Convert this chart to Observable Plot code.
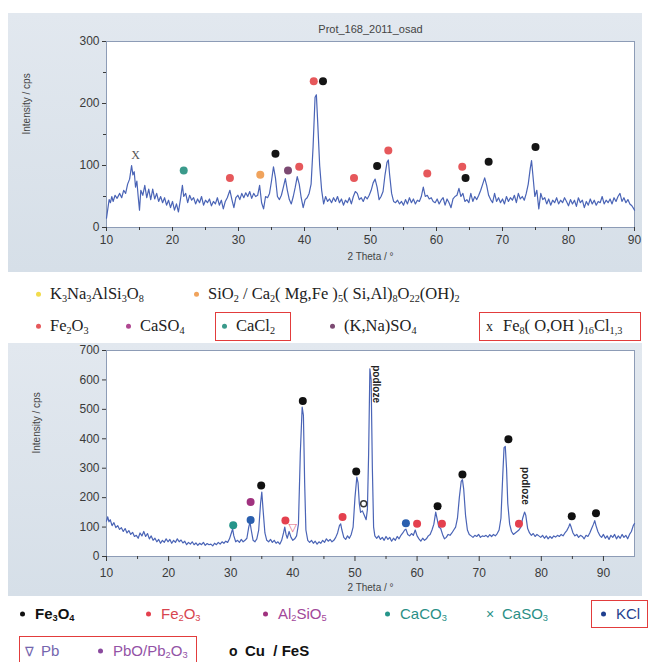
<!DOCTYPE html>
<html>
<head>
<meta charset="utf-8">
<script src="https://cdn.jsdelivr.net/npm/d3@7"></script>
<script src="https://cdn.jsdelivr.net/npm/@observablehq/plot@0.6"></script>
<style>
  html, body { margin: 0; padding: 0; background: #fff; }
  #root { position: relative; width: 649px; height: 662px; overflow: hidden; background: #fff; }
  .panel { position: absolute; background: linear-gradient(180deg, #e2e8ef 0%, #d6dfe8 100%); }
  .chart { position: absolute; }
  .lg { position: absolute; white-space: nowrap; line-height: 1; transform: translateY(-50%); }
  .lg sub { font-size: 0.62em; vertical-align: -0.28em; line-height: 0; }
  .serif { font-family: "Liberation Serif", "Times New Roman", serif; font-size: 16.5px; color: #222; }
  .sans { font-family: "Liberation Sans", Arial, sans-serif; font-size: 15px; }
  .dot { display: inline-block; width: 5px; height: 5px; border-radius: 50%; vertical-align: middle; position: relative; top: -1px; }
  .box { position: absolute; border: 1.5px solid #e23c3c; box-sizing: border-box; }
</style>
</head>
<body>
<div id="root">
  <div class="panel" style="left:8px;top:13px;width:634px;height:259px"></div>
  <div class="chart" id="topChart" style="left:8px;top:13px"></div>
  <div class="panel" style="left:8px;top:343px;width:634px;height:253px"></div>
  <div class="chart" id="botChart" style="left:8px;top:343px"></div>
  <div id="legends"></div>
</div>
<script>
// ---------------- DATA ----------------
const topTitle = "Prot_168_2011_osad";
const yLabel = "Intensity / cps";
const xLabel = "2 Theta / °";
const topXTicks = [10, 20, 30, 40, 50, 60, 70, 80, 90];
const topXMinor = [15, 25, 35, 45, 55, 65, 75, 85];
const topYTicks = [0, 100, 200, 300];
const topYMinor = [50, 150, 250];
const botXTicks = [10, 20, 30, 40, 50, 60, 70, 80, 90];
const botXMinor = [15, 25, 35, 45, 55, 65, 75, 85];
const botYTicks = [0, 100, 200, 300, 400, 500, 600, 700];

// top pattern: [2theta, intensity]
const topPattern = [
[10.0,15],[10.2,30],[10.4,45],[10.6,40],[10.8,50],[11.0,42],[11.3,52],[11.6,47],[12.0,55],[12.3,48],[12.6,60],[12.9,55],
[13.2,70],[13.5,78],[13.8,100],[14.0,85],[14.2,90],[14.4,65],[14.6,75],[14.8,50],[15.0,28],[15.2,60],[15.5,52],[15.8,68],
[16.1,48],[16.4,62],[16.7,45],[17.0,62],[17.3,46],[17.6,55],[17.9,42],[18.2,50],[18.5,40],[18.8,48],[19.1,36],[19.4,44],
[19.7,32],[20.0,42],[20.3,28],[20.6,38],[20.9,25],[21.2,45],[21.5,68],[21.7,50],[22.0,55],[22.3,40],[22.6,52],[22.9,44],
[23.2,48],[23.5,38],[23.8,46],[24.1,40],[24.4,50],[24.7,36],[25.0,44],[25.3,40],[25.6,46],[25.9,35],[26.2,42],[26.5,38],
[26.8,48],[27.1,36],[27.4,44],[27.7,30],[28.0,42],[28.3,48],[28.7,60],[29.0,45],[29.3,32],[29.6,48],[29.9,52],[30.2,45],
[30.5,55],[30.8,48],[31.1,56],[31.4,50],[31.7,58],[32.0,47],[32.3,55],[32.6,50],[32.9,52],[33.2,68],[33.5,40],[33.8,30],
[34.1,50],[34.4,48],[34.7,55],[35.0,75],[35.3,98],[35.6,80],[35.9,50],[36.2,45],[36.5,52],[36.8,65],[37.1,79],[37.4,60],
[37.7,45],[38.0,38],[38.3,50],[38.6,65],[38.9,82],[39.2,70],[39.5,48],[39.8,32],[40.1,45],[40.4,48],[40.7,55],[41.0,70],
[41.3,130],[41.6,210],[41.8,214],[42.0,170],[42.3,100],[42.6,60],[42.9,38],[43.2,50],[43.5,42],[43.8,46],[44.1,40],[44.4,48],
[44.7,42],[45.0,50],[45.3,40],[45.6,46],[45.9,36],[46.2,44],[46.5,40],[46.8,48],[47.1,38],[47.4,50],[47.7,58],[48.0,55],
[48.3,45],[48.6,48],[48.9,42],[49.2,50],[49.5,46],[49.8,52],[50.1,60],[50.4,72],[50.7,78],[51.0,65],[51.3,45],[51.6,50],
[51.9,58],[52.2,85],[52.5,105],[52.7,109],[52.9,85],[53.2,55],[53.5,42],[53.8,40],[54.1,44],[54.4,38],[54.7,42],[55.0,36],
[55.3,45],[55.6,38],[55.9,48],[56.2,40],[56.5,46],[56.8,38],[57.1,44],[57.4,42],[57.7,50],[58.0,65],[58.3,50],[58.6,52],
[58.9,46],[59.2,48],[59.5,42],[59.8,40],[60.1,46],[60.4,38],[60.7,44],[61.0,48],[61.3,36],[61.6,46],[61.9,40],[62.2,32],
[62.5,46],[62.8,50],[63.1,52],[63.4,63],[63.7,50],[64.0,55],[64.3,42],[64.6,45],[64.9,40],[65.2,55],[65.5,42],[65.8,50],
[66.1,45],[66.4,52],[66.7,60],[67.0,70],[67.3,80],[67.6,68],[67.9,52],[68.2,45],[68.5,40],[68.8,55],[69.1,42],[69.4,48],
[69.7,40],[70.0,46],[70.3,38],[70.6,50],[70.9,42],[71.2,48],[71.5,44],[71.8,52],[72.1,40],[72.4,55],[72.7,46],[73.0,50],
[73.3,44],[73.6,55],[73.9,70],[74.2,95],[74.4,108],[74.6,85],[74.9,50],[75.2,60],[75.5,30],[75.8,55],[76.1,45],[76.4,48],
[76.7,38],[77.0,46],[77.3,36],[77.6,44],[77.9,40],[78.2,48],[78.5,38],[78.8,44],[79.1,40],[79.4,48],[79.7,42],[80.0,35],
[80.3,45],[80.6,38],[80.9,44],[81.2,34],[81.5,48],[81.8,40],[82.1,44],[82.4,32],[82.7,42],[83.0,36],[83.3,46],[83.6,38],
[83.9,44],[84.2,36],[84.5,42],[84.8,40],[85.1,50],[85.4,38],[85.7,44],[86.0,40],[86.3,46],[86.6,38],[86.9,48],[87.2,42],
[87.5,50],[87.8,55],[88.1,42],[88.4,48],[88.7,40],[89.0,45],[89.3,38],[89.6,35],[89.9,30],[90.0,28]
];

// top phase markers: [phase, 2theta, intensity]
const topMarkers = [
["CaCl2",21.7,92],["Fe2O3",28.7,80],["SiO2",33.3,85],["Fe3O4",35.6,119],["(K,Na)SO4",37.5,92],["Fe2O3",39.2,98],
["Fe2O3",41.4,236],["Fe3O4",42.8,236],["Fe2O3",47.5,80],["Fe3O4",51.0,99],["Fe2O3",52.7,124],["Fe2O3",58.6,87],
["Fe2O3",63.9,98],["Fe3O4",64.4,80],["Fe3O4",67.9,106],["Fe3O4",75.0,130]
];
const topXMarker = [[14.4,116]]; // Fe8(O,OH)16Cl1,3

// bottom pattern: [2theta, intensity]
const botPattern = [
[10.0,120],[10.2,135],[10.4,118],[10.6,125],[10.9,105],[11.2,115],[11.5,98],[11.8,105],[12.1,92],[12.4,98],[12.7,85],[13.0,95],
[13.3,80],[13.6,88],[13.9,75],[14.2,82],[14.5,68],[14.8,72],[15.1,62],[15.4,80],[15.7,70],[16.0,85],[16.3,68],[16.6,78],
[16.9,60],[17.2,70],[17.5,55],[17.8,62],[18.1,50],[18.4,58],[18.7,45],[19.0,55],[19.3,48],[19.6,60],[19.9,50],[20.2,58],
[20.5,45],[20.8,55],[21.1,48],[21.4,60],[21.7,50],[22.0,56],[22.3,46],[22.6,52],[22.9,40],[23.2,48],[23.5,42],[23.8,50],
[24.1,40],[24.4,46],[24.7,38],[25.0,45],[25.3,40],[25.6,48],[25.9,38],[26.2,44],[26.5,40],[26.8,42],[27.1,36],[27.4,45],
[27.7,40],[28.0,48],[28.3,42],[28.6,50],[28.9,45],[29.2,52],[29.5,48],[29.8,60],[30.1,80],[30.3,94],[30.5,70],[30.8,50],
[31.1,55],[31.4,48],[31.7,58],[32.0,50],[32.3,55],[32.6,62],[32.9,100],[33.1,117],[33.3,90],[33.6,55],[33.9,50],[34.2,60],
[34.5,90],[34.8,180],[35.0,219],[35.2,160],[35.5,80],[35.8,55],[36.1,50],[36.4,58],[36.7,48],[37.0,55],[37.3,45],[37.6,50],
[37.9,42],[38.2,55],[38.5,80],[38.7,100],[38.9,75],[39.1,62],[39.4,85],[39.7,65],[40.0,55],[40.3,60],[40.6,70],[40.9,110],
[41.2,350],[41.5,508],[41.7,480],[41.9,250],[42.1,90],[42.4,55],[42.7,48],[43.0,55],[43.3,45],[43.6,52],[43.9,42],[44.2,50],
[44.5,45],[44.8,55],[45.1,48],[45.4,60],[45.7,52],[46.0,58],[46.3,50],[46.6,55],[46.9,65],[47.2,80],[47.5,105],[47.7,111],
[47.9,90],[48.2,65],[48.5,58],[48.8,70],[49.1,62],[49.4,75],[49.7,100],[50.0,200],[50.3,270],[50.5,250],[50.7,180],[50.9,150],
[51.2,155],[51.5,140],[51.8,125],[52.0,160],[52.2,350],[52.4,638],[52.6,600],[52.8,300],[53.0,100],[53.2,70],[53.5,62],[53.8,70],
[54.1,58],[54.4,65],[54.7,55],[55.0,68],[55.3,58],[55.6,65],[55.9,52],[56.2,62],[56.5,55],[56.8,68],[57.1,60],[57.4,72],
[57.7,80],[58.0,90],[58.2,93],[58.5,75],[58.8,70],[59.1,78],[59.4,72],[59.7,90],[60.0,70],[60.3,60],[60.6,52],[60.9,62],
[61.2,55],[61.5,60],[61.8,70],[62.1,75],[62.4,90],[62.7,110],[63.0,151],[63.2,130],[63.5,100],[63.8,95],[64.1,75],[64.4,60],
[64.7,65],[65.0,75],[65.3,72],[65.6,80],[65.9,90],[66.2,100],[66.5,130],[66.8,200],[67.1,255],[67.3,261],[67.5,230],[67.8,140],
[68.1,90],[68.4,75],[68.7,70],[69.0,65],[69.3,72],[69.6,68],[69.9,75],[70.2,65],[70.5,70],[70.8,68],[71.1,72],[71.4,66],
[71.7,74],[72.0,68],[72.3,75],[72.6,70],[72.9,78],[73.2,90],[73.5,130],[73.8,280],[74.0,370],[74.2,374],[74.4,300],[74.6,180],
[74.9,110],[75.2,85],[75.5,75],[75.8,80],[76.1,85],[76.4,90],[76.7,100],[77.0,130],[77.3,151],[77.5,140],[77.8,95],[78.1,80],
[78.4,72],[78.7,78],[79.0,68],[79.3,75],[79.6,70],[79.9,65],[80.2,72],[80.5,62],[80.8,70],[81.1,60],[81.4,68],[81.7,62],
[82.0,70],[82.3,66],[82.6,72],[82.9,68],[83.2,75],[83.5,70],[83.8,80],[84.1,88],[84.4,100],[84.6,111],[84.8,100],[85.1,80],
[85.4,70],[85.7,75],[86.0,65],[86.3,72],[86.6,68],[86.9,60],[87.2,72],[87.5,68],[87.8,80],[88.1,95],[88.4,110],[88.6,122],
[88.8,105],[89.1,85],[89.4,72],[89.7,65],[90.0,75],[90.3,62],[90.6,70],[90.9,58],[91.2,72],[91.5,65],[91.8,75],[92.1,60],
[92.4,70],[92.7,62],[93.0,75],[93.3,65],[93.6,72],[93.9,60],[94.2,75],[94.5,85],[94.8,105],[95.0,112]
];

// bottom phase markers: [phase, 2theta, intensity]
const botMarkers = [
["CaCO3",30.4,106],["KCl",33.2,124],["Al2SiO5",33.2,185],["Fe3O4",34.9,241],["Fe2O3",38.8,122],["Fe3O4",41.6,528],
["Fe2O3",48.0,134],["Fe3O4",50.2,289],["KCl",58.2,113],["Fe2O3",60.0,111],["Fe3O4",63.3,171],["Fe2O3",64.0,111],
["Fe3O4",67.3,279],["Fe3O4",74.7,398],["Fe2O3",76.4,111],["Fe3O4",84.9,137],["Fe3O4",88.8,147]
];
const botPbMarker = [[40.0,98]];
const botCuMarker = [[51.4,179]];
const substrateLabel = "podloze";
const substrateMarks = [[53.4,650],[77.4,304]];

// phase colours
const topPhaseColors = {"Fe2O3":"#e6585b","Fe3O4":"#151515","CaCl2":"#3a9a8b","SiO2":"#f0a35c","(K,Na)SO4":"#7c4a72","CaSO4":"#b04891","K3Na3AlSi3O8":"#f2dc4c"};
const botPhaseColors = {"Fe3O4":"#111111","Fe2O3":"#e4404e","Al2SiO5":"#a0327f","CaCO3":"#25958a","KCl":"#2a5fae"};

// legend entries
const legend1Row1 = [
  {color:"#f2dc4c", html:"K<sub>3</sub>Na<sub>3</sub>AlSi<sub>3</sub>O<sub>8</sub>"},
  {color:"#f0a35c", html:"SiO<sub>2</sub> / Ca<sub>2</sub>( Mg,Fe )<sub>5</sub>( Si,Al)<sub>8</sub>O<sub>22</sub>(OH)<sub>2</sub>"}
];
const legend1Row2 = [
  {color:"#e6585b", html:"Fe<sub>2</sub>O<sub>3</sub>"},
  {color:"#b04891", html:"CaSO<sub>4</sub>"},
  {color:"#3a9a8b", html:"CaCl<sub>2</sub>"},
  {color:"#7c4a72", html:"(K,Na)SO<sub>4</sub>"},
  {sym:"x", html:"Fe<sub>8</sub>( O,OH )<sub>16</sub>Cl<sub>1,3</sub>"}
];
const legend2Row1 = [
  {color:"#111111", text:"#111111", bold:true, html:"Fe<sub>3</sub>O<sub>4</sub>"},
  {color:"#e4404e", text:"#d8454f", html:"Fe<sub>2</sub>O<sub>3</sub>"},
  {color:"#a0327f", text:"#a2479a", html:"Al<sub>2</sub>SiO<sub>5</sub>"},
  {color:"#25958a", text:"#2a8f86", html:"CaCO<sub>3</sub>"},
  {sym:"×", text:"#2a8f86", html:"CaSO<sub>3</sub>"},
  {color:"#1f3f8f", text:"#1f3f8f", html:"KCl"}
];
const legend2Row2 = [
  {sym:"∇", text:"#7466ae", html:"Pb"},
  {color:"#8a4a9e", text:"#9353a6", html:"PbO/Pb<sub>2</sub>O<sub>3</sub>"},
  {sym:"o", text:"#111111", bold:true, html:"Cu&nbsp; / FeS"}
];

// ---------------- CHARTS ----------------
const axisFont = "'Liberation Sans', Arial, sans-serif";
const px = d => d[0], py = d => d[1];

const topChart = Plot.plot({
  width: 634, height: 259,
  marginLeft: 98, marginRight: 8, marginTop: 28, marginBottom: 45,
  style: {background: "transparent", fontFamily: axisFont, fontSize: "12px", color: "#3a3a3a", overflow: "visible"},
  x: {domain: [10, 90]},
  y: {domain: [0, 300]},
  marks: [
    Plot.frame({fill: "white", stroke: "#8d9cb6"}),
    Plot.axisX({ticks: topXTicks, tickSize: 4, tickPadding: 4, label: null, fontSize: 12}),
    Plot.axisX({ticks: topXMinor, tickSize: 3, tickFormat: () => "", label: null}),
    Plot.axisY({ticks: topYTicks, tickSize: 4, tickPadding: 3, label: null, fontSize: 12}),
    Plot.axisY({ticks: topYMinor, tickSize: 3, tickFormat: () => "", label: null}),
    Plot.line(topPattern, {x: px, y: py, stroke: "#4a64b6", strokeWidth: 1.2}),
    Plot.dot(topMarkers, {x: d => d[1], y: d => d[2], r: 4, fill: d => topPhaseColors[d[0]], stroke: "none"}),
    Plot.text(topXMarker, {x: px, y: py, text: () => "X", fontSize: 12, fontFamily: "'Liberation Serif', serif", fill: "#555"}),
    Plot.text([topTitle], {frameAnchor: "top", dy: -16, fontSize: 11, fill: "#444"}),
    Plot.text([yLabel], {frameAnchor: "left", dx: -80, rotate: -90, fontSize: 10, fill: "#444"}),
    Plot.text([xLabel], {frameAnchor: "bottom", dy: 32, fontSize: 10, fill: "#444"})
  ]
});
document.getElementById("topChart").append(topChart);

const botChart = Plot.plot({
  width: 634, height: 253,
  marginLeft: 98, marginRight: 8, marginTop: 7, marginBottom: 40,
  style: {background: "transparent", fontFamily: axisFont, fontSize: "12px", color: "#3a3a3a", overflow: "visible"},
  x: {domain: [10, 95]},
  y: {domain: [0, 700]},
  marks: [
    Plot.frame({fill: "white", stroke: "#8d9cb6"}),
    Plot.axisX({ticks: botXTicks, tickSize: 5, tickPadding: 7, label: null, fontSize: 12}),
    Plot.axisX({ticks: botXMinor, tickSize: 3, tickFormat: () => "", label: null}),
    Plot.axisY({ticks: botYTicks, tickSize: 4, tickPadding: 3, label: null, fontSize: 12}),
    Plot.line(botPattern, {x: px, y: py, stroke: "#4a64b6", strokeWidth: 1.2}),
    Plot.dot(botMarkers, {x: d => d[1], y: d => d[2], r: 4, fill: d => botPhaseColors[d[0]], stroke: "none"}),
    Plot.text(botPbMarker, {x: px, y: py, text: () => "▽", fontSize: 11, fontFamily: "'DejaVu Sans', sans-serif", fill: "#e0607a"}),
    Plot.dot(botCuMarker, {x: px, y: py, r: 3, fill: "white", stroke: "#333", strokeWidth: 1.4}),
    Plot.text(substrateMarks, {x: px, y: py, text: () => substrateLabel, rotate: 90, textAnchor: "start", fontSize: 10, fontWeight: "bold", fill: "#222"}),
    Plot.text([yLabel], {frameAnchor: "left", dx: -70, rotate: -90, fontSize: 10, fill: "#444"}),
    Plot.text([xLabel], {frameAnchor: "bottom", dy: 34, fontSize: 10, fill: "#444"})
  ]
});
document.getElementById("botChart").append(botChart);

// ---------------- LEGENDS ----------------
const L = document.getElementById("legends");
function item(cls, x, y, e) {
  const d = document.createElement("div");
  d.className = "lg " + cls;
  d.style.left = x + "px";
  d.style.top = y + "px";
  if (e.text) d.style.color = e.text;
  if (e.bold) d.style.fontWeight = "bold";
  let sym;
  if (e.sym) sym = `<span style="display:inline-block;width:${e.sym === "x" ? 17 : 16}px;font-size:${e.sym === "∇" ? 13 : 14}px;${e.sym==="∇"?"font-family:'DejaVu Sans';":""}">${e.sym}</span>`;
  else sym = `<span class="dot" style="background:${e.color}"></span><span style="display:inline-block;width:${cls === "serif" ? 9 : 10}px"></span>`;
  d.innerHTML = sym + e.html;
  L.append(d);
}
function box(x, y, w, h) {
  const b = document.createElement("div");
  b.className = "box";
  Object.assign(b.style, {left: x + "px", top: y + "px", width: w + "px", height: h + "px"});
  L.append(b);
}
const l1r1x = [36, 194];
legend1Row1.forEach((e, i) => item("serif", l1r1x[i], 294, e));
const l1r2x = [36, 126, 222, 330, 486];
legend1Row2.forEach((e, i) => item("serif", l1r2x[i], 326, e));
box(215, 312, 76, 29);
box(479, 312, 162, 29);

const l2r1x = [20, 146, 263, 385, 486, 601];
legend2Row1.forEach((e, i) => item("sans", l2r1x[i], 613, e));
const l2r2x = [25, 98, 229];
legend2Row2.forEach((e, i) => item("sans", l2r2x[i], 650, e));
box(591, 600, 57, 28);
box(19, 636, 178, 27);
</script>
</body>
</html>
